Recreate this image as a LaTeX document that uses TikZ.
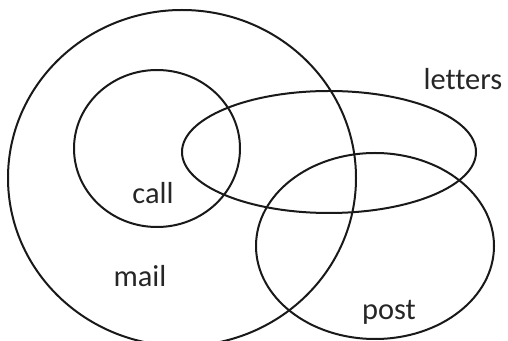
\documentclass[tikz,border=0pt]{standalone}
\usepackage{fontspec}
\setmainfont{Carlito}[Ligatures=NoCommon]
\begin{document}
\begin{tikzpicture}[x=0.5pt,y=-0.5pt,
  ring/.style={draw=black!90,line width=1pt},
  lbl/.style={anchor=base,inner sep=0pt,text=black!85,font=\fontsize{15.2pt}{17pt}\selectfont}]
\useasboundingbox (0,0) rectangle (508,341);
\coordinate (mailc) at (182,178);
\coordinate (callc) at (157,148.5);
\coordinate (letc) at (329,152);
\coordinate (postc) at (375,246);
\draw[ring] (mailc) ellipse [x radius=87pt, y radius=84pt];
\draw[ring] (callc) ellipse [x radius=41.5pt, y radius=39.25pt];
\draw[ring] (letc) ellipse [x radius=73.5pt, y radius=30.5pt];
\draw[ring] (postc) ellipse [x radius=59.5pt, y radius=46.5pt];
\node[lbl] (letters) at (463,90) {letters};
\node[lbl] (call) at (153,204) {call};
\node[lbl] (mail) at (140,287) {mail};
\node[lbl] (post) at (389,320) {post};
\end{tikzpicture}
\end{document}
